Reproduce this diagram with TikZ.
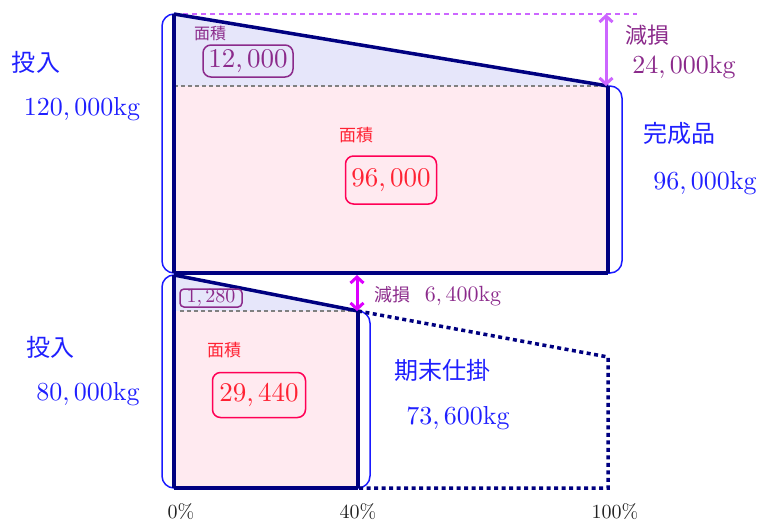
\documentclass[tikz,border=0pt]{standalone}
\usepackage{fontspec}
\setmainfont{lmroman10-regular}[Extension=.otf]
\newfontfamily\jp{Noto Sans CJK JP}
\usetikzlibrary{arrows.meta}
\definecolor{navy}{HTML}{000080}
\definecolor{bluetxt}{HTML}{1F1FFF}
\definecolor{brk}{HTML}{1A1AFF}
\definecolor{purp}{HTML}{8B2A8B}
\definecolor{redtxt}{HTML}{FF2233}
\definecolor{redbox}{HTML}{FF0055}
\definecolor{pinkfill}{HTML}{FFEAF0}
\definecolor{lavfill}{HTML}{E6E6FA}
\definecolor{vio}{HTML}{CC66FF}
\definecolor{mag}{HTML}{DD00FF}
\definecolor{pct}{HTML}{222222}
\newcommand\setfs[1]{\fontsize{#1}{#1}\selectfont}
\begin{document}
\begin{tikzpicture}[x=1pt,y=-1pt,
  heavy/.style={draw=navy,line width=3.5pt},
  dotline/.style={draw=navy,line width=3.5pt,dash pattern=on 4pt off 3.5pt},
  greydash/.style={draw=gray,line width=1.3pt,dash pattern=on 4pt off 3pt},
  bracket/.style={draw=brk,line width=1.5pt,rounded corners=12pt},
  dbl/.style={line width=3pt,{Straight Barb[length=6pt,width=13pt]}-{Straight Barb[length=6pt,width=13pt]}},
  bluelab/.style={text=bluetxt,inner sep=0pt},
  purplab/.style={text=purp,inner sep=0pt},
  redlab/.style={text=redtxt,inner sep=0pt},
  areabox/.style={rounded corners=8pt,line width=1.5pt,inner sep=0pt,align=center},
  pctlab/.style={text=pct,inner sep=0pt,font=\setfs{20}}
]
\useasboundingbox (0,0) rectangle (759,522);
% corners
\coordinate (A) at (174,14);
\coordinate (B) at (608,86);
\coordinate (Bl) at (174,86);
\coordinate (C) at (608,273);
\coordinate (D) at (174,273);
\coordinate (E) at (174,275);
\coordinate (F) at (358,311);
\coordinate (Fl) at (174,311);
\coordinate (G) at (358,488);
\coordinate (H) at (174,488);
\coordinate (I) at (608,357);
\coordinate (J) at (608,488);
\coordinate (Atop) at (637,14);
\coordinate (Atr) at (606,14);
\coordinate (Btr) at (606,86);
\coordinate (Ea) at (357,275);
\coordinate (Fa) at (357,311);
\coordinate (Fg) at (180,311);
% fills
\fill[lavfill] (A) -- (B) -- (Bl) -- cycle;
\fill[pinkfill] (Bl) rectangle (C);
\fill[lavfill] (E) -- (F) -- (Fl) -- cycle;
\fill[pinkfill] (Fl) rectangle (G);
% dashed guides
\draw[greydash] (Bl) -- (B);
\draw[greydash] (Fg) -- (F);
\draw[draw=vio,line width=1.3pt,dash pattern=on 5pt off 4pt] (A) -- (Atop);
% brackets
\draw[bracket] (A) -- (162,14) -- (162,273) -- (622,273) -- (622,86) -- (B);
\draw[bracket] (E) -- (162,275) -- (162,488) -- (370,488) -- (370,311) -- (F);
% heavy outlines
\draw[heavy] (A) -- (B);
\draw[heavy] (A) -- (D);
\draw[heavy] (B) -- (C);
\draw[heavy] (D) -- (C);
\draw[heavy] (E) -- (F);
\draw[heavy] (E) -- (H);
\draw[heavy] (F) -- (G);
\draw[heavy] (H) -- (G);
\draw[dotline] (F) -- (I) -- (J) -- (G);
% arrows
\draw[dbl,vio] (Atr) -- (Btr);
\draw[dbl,mag] (Ea) -- (Fa);
% labels top block
\node[purplab,font=\jp\setfs{16}] (m1) at (210,33) {面積};
\node[areabox,draw=purp,text=purp,minimum width=90pt,minimum height=32pt,font=\setfs{27}] (b1) at (248,61) {12,\,000};
\node[purplab,font=\jp\setfs{22}] (g1) at (647,35) {減損};
\node[purplab,font=\setfs{26}] (g1v) at (684,67) {24,\,000kg};
\node[bluelab,font=\jp\setfs{24}] (t1) at (36,62) {投入};
\node[bluelab,font=\setfs{26}] (t1v) at (82,109) {120,\,000kg};
\node[bluelab,font=\jp\setfs{24}] (k1) at (679,133) {完成品};
\node[bluelab,font=\setfs{26}] (k1v) at (705,183) {96,\,000kg};
\node[redlab,font=\jp\setfs{17}] (m2) at (356,135) {面積};
\node[areabox,draw=redbox,text=redtxt,minimum width=91pt,minimum height=48pt,font=\setfs{27}] (b2) at (391,180) {96,\,000};
% labels lower block
\node[areabox,draw=purp,text=purp,rounded corners=4pt,minimum width=62pt,minimum height=18pt,font=\setfs{20}] (b3) at (211,298) {1,\,280};
\node[purplab,font=\setfs{22},anchor=west] (g2) at (374,296) {{\jp\setfs{18}減損}\ \ 6,\,400kg};
\node[bluelab,font=\jp\setfs{24}] (t2) at (50,347) {投入};
\node[bluelab,font=\setfs{26}] (t2v) at (88,394) {80,\,000kg};
\node[redlab,font=\jp\setfs{17}] (m3) at (224,350) {面積};
\node[areabox,draw=redbox,text=redtxt,minimum width=93pt,minimum height=45pt,font=\setfs{27}] (b4) at (259,395) {29,\,440};
\node[bluelab,font=\jp\setfs{24}] (w1) at (442,370) {期末仕掛};
\node[bluelab,font=\setfs{26}] (w1v) at (458,418) {73,\,600kg};
% percent axis
\node[pctlab] (p0) at (181,512) {0\%};
\node[pctlab] (p40) at (358,512) {40\%};
\node[pctlab] (p100) at (615,512) {100\%};
\end{tikzpicture}
\end{document}
